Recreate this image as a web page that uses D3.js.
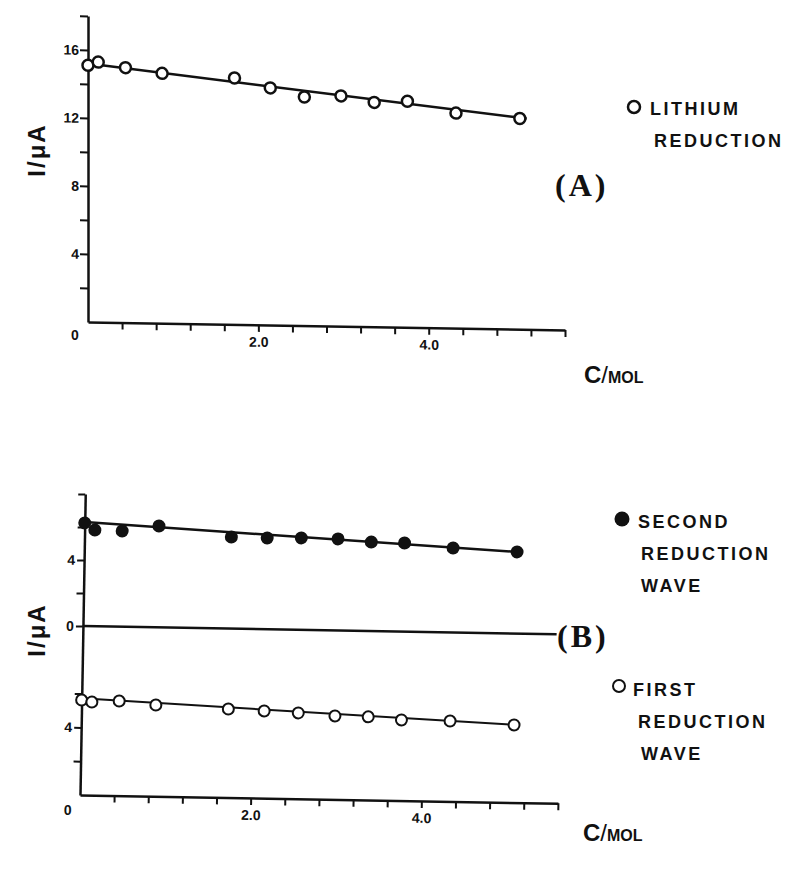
<!DOCTYPE html>
<html>
<head>
<meta charset="utf-8">
<script src="https://cdn.jsdelivr.net/npm/d3@7"></script>
<style>
  body { margin: 0; background: #fff; }
  svg { display: block; }
  text { font-family: "Liberation Sans", Arial, sans-serif; font-weight: bold; fill: #111; }
  .axis .domain { stroke: #111; stroke-width: 2.5; }
  .axis .tick line { stroke: #111; stroke-width: 2; }
  .axis .tick text { font-size: 14px; font-weight: bold; fill: #111; }
</style>
</head>
<body>
<script>
// concentration (mol), same for both runs
var conc = [0, 0.12, 0.44, 0.87, 1.72, 2.14, 2.54, 2.97, 3.36, 3.75, 4.32, 5.07];
// (A) lithium reduction current, uA
var lithium = [15.1, 15.3, 15.0, 14.7, 14.5, 13.95, 13.45, 13.55, 13.2, 13.3, 12.65, 12.4];
// (B) second and first reduction waves, uA
var secondWave = [6.25, 5.83, 5.8, 6.14, 5.55, 5.53, 5.57, 5.55, 5.39, 5.37, 5.12, 4.95];
var firstWave = [5.62, 5.51, 5.6, 5.4, 5.24, 5.16, 5.08, 4.94, 4.92, 4.77, 4.76, 4.59];
// fitted straight lines, [c, I] end points
var fitLithium = [[0, 15.2], [5.15, 12.4]];
var fitSecond = [[0, 6.3], [5.07, 4.95]];
var fitFirst = [[0, 5.72], [5.07, 4.6]];

var xTicks = [0.4, 0.8, 1.2, 1.6, 2.0, 2.4, 2.8, 3.2, 3.6, 4.0, 4.4, 4.8, 5.2, 5.6];
var xLabels = [2.0, 4.0];
var yTicksA = [2, 4, 6, 8, 10, 12, 14, 16, 18];
var yLabelsA = [4, 8, 12, 16];
var yTicksUp = [0, 2, 4, 6, 8];
var yLabelsUp = [0, 4];
var yTicksLow = [2, 4, 6];
var yLabelsLow = [4];

var svg = d3.select("body").append("svg")
  .attr("width", 795)
  .attr("height", 869);

function xFmt(d) {
  return xLabels.indexOf(d) >= 0 ? d.toFixed(1) : "";
}
function yFmt(list) {
  return function(d) { return list.indexOf(d) >= 0 ? d : ""; };
}

// ---------- panel A ----------
var xA = d3.scaleLinear().domain([0, 5.6]).range([88, 565]);
var yA = d3.scaleLinear().domain([0, 18]).range([322, 16]);

var gA = svg.append("g")
  .attr("transform", "translate(88,322) skewY(0.96) translate(-88,-322)");

gA.append("g").attr("class", "axis")
  .attr("transform", "translate(0," + yA(0) + ")")
  .call(d3.axisBottom(xA).tickValues(xTicks).tickSize(7).tickSizeOuter(0).tickPadding(5).tickFormat(xFmt));

gA.append("g").attr("class", "axis")
  .attr("transform", "translate(" + xA(0) + ",0)")
  .call(d3.axisLeft(yA).tickValues(yTicksA).tickSize(8).tickSizeOuter(0).tickPadding(1).tickFormat(yFmt(yLabelsA)));

gA.append("text")
  .attr("x", xA(0) - 17).attr("y", yA(0) + 18)
  .attr("font-size", 14)
  .text("0");

var lineA = d3.line()
  .x(function(d) { return xA(d[0]); })
  .y(function(d) { return yA(d[1]); });

gA.append("path")
  .datum(fitLithium)
  .attr("d", lineA)
  .attr("fill", "none")
  .attr("stroke", "#111")
  .attr("stroke-width", 2.5);

gA.selectAll("circle.li")
  .data(lithium)
  .enter()
  .append("circle")
  .attr("class", "li")
  .attr("cx", function(d, i) { return xA(conc[i]); })
  .attr("cy", function(d) { return yA(d); })
  .attr("r", 5.5)
  .attr("fill", "#fff")
  .attr("stroke", "#111")
  .attr("stroke-width", 2.5);

// ---------- panel B ----------
var xB = d3.scaleLinear().domain([0, 5.6]).range([80, 558]);
var yLow = d3.scaleLinear().domain([0, 10]).range([795, 626]);
var yUp = d3.scaleLinear().domain([0, 8]).range([626, 494]);

var gB = svg.append("g")
  .attr("transform", "rotate(1,80,795)");

gB.append("g").attr("class", "axis")
  .attr("transform", "translate(0," + yLow(0) + ")")
  .call(d3.axisBottom(xB).tickValues(xTicks).tickSize(7).tickSizeOuter(0).tickPadding(5).tickFormat(xFmt));

gB.append("g").attr("class", "axis")
  .attr("transform", "translate(" + xB(0) + ",0)")
  .call(d3.axisLeft(yLow).tickValues(yTicksLow).tickSize(7).tickSizeOuter(0).tickPadding(2).tickFormat(yFmt(yLabelsLow)));

gB.append("g").attr("class", "axis")
  .attr("transform", "translate(" + xB(0) + ",0)")
  .call(d3.axisLeft(yUp).tickValues(yTicksUp).tickSize(7).tickSizeOuter(0).tickPadding(2).tickFormat(yFmt(yLabelsUp)));

// zero line of the upper plot
gB.append("line")
  .attr("x1", xB(0)).attr("x2", xB(5.55))
  .attr("y1", yUp(0)).attr("y2", yUp(0))
  .attr("stroke", "#111")
  .attr("stroke-width", 2.5);

gB.append("text")
  .attr("x", xB(0) - 16).attr("y", yLow(0) + 20)
  .attr("font-size", 14)
  .text("0");

var lineUp = d3.line()
  .x(function(d) { return xB(d[0]); })
  .y(function(d) { return yUp(d[1]); });
var lineLow = d3.line()
  .x(function(d) { return xB(d[0]); })
  .y(function(d) { return yLow(d[1]); });

gB.append("path")
  .datum(fitSecond)
  .attr("d", lineUp)
  .attr("fill", "none")
  .attr("stroke", "#111")
  .attr("stroke-width", 2.5);

gB.append("path")
  .datum(fitFirst)
  .attr("d", lineLow)
  .attr("fill", "none")
  .attr("stroke", "#111")
  .attr("stroke-width", 2);

gB.selectAll("circle.second")
  .data(secondWave)
  .enter()
  .append("circle")
  .attr("class", "second")
  .attr("cx", function(d, i) { return xB(conc[i]); })
  .attr("cy", function(d) { return yUp(d); })
  .attr("r", 6.5)
  .attr("fill", "#111");

gB.selectAll("circle.first")
  .data(firstWave)
  .enter()
  .append("circle")
  .attr("class", "first")
  .attr("cx", function(d, i) { return xB(conc[i]); })
  .attr("cy", function(d) { return yLow(d); })
  .attr("r", 5.5)
  .attr("fill", "#fff")
  .attr("stroke", "#111")
  .attr("stroke-width", 2);

// ---------- labels ----------
function yTitle(cy) {
  svg.append("text")
    .attr("transform", "translate(45," + cy + ") rotate(-90)")
    .attr("text-anchor", "middle")
    .attr("font-size", 24)
    .attr("letter-spacing", 2)
    .text("I/\u03bcA");
}
yTitle(150);
yTitle(630);

function xTitle(x, y) {
  var t = svg.append("text").attr("x", x).attr("y", y);
  t.append("tspan").attr("font-size", 24).text("C");
  t.append("tspan").attr("font-size", 24).attr("font-weight", "normal").text("/");
  t.append("tspan").attr("font-size", 16).text("MOL");
}
xTitle(584, 383);
xTitle(583, 841);

function legendLines(x, y0, lines) {
  lines.forEach(function(s, i) {
    svg.append("text")
      .attr("x", x[i]).attr("y", y0 + i * 32)
      .attr("font-size", 18)
      .attr("letter-spacing", 2.5)
      .text(s);
  });
}

svg.append("circle").attr("cx", 634).attr("cy", 107).attr("r", 6)
  .attr("fill", "#fff").attr("stroke", "#111").attr("stroke-width", 2.5);
legendLines([650, 654], 115, ["LITHIUM", "REDUCTION"]);

svg.append("circle").attr("cx", 622).attr("cy", 519).attr("r", 7.5)
  .attr("fill", "#111");
legendLines([638, 641, 641], 528, ["SECOND", "REDUCTION", "WAVE"]);

svg.append("circle").attr("cx", 619).attr("cy", 686).attr("r", 6)
  .attr("fill", "#fff").attr("stroke", "#111").attr("stroke-width", 2);
legendLines([633, 638, 641], 696, ["FIRST", "REDUCTION", "WAVE"]);

svg.append("text")
  .attr("x", 555).attr("y", 196)
  .style("font-family", "'Liberation Serif', 'DejaVu Serif', serif")
  .attr("font-size", 32)
  .attr("letter-spacing", 3)
  .text("(A)");

svg.append("text")
  .attr("x", 557).attr("y", 647)
  .style("font-family", "'Liberation Serif', 'DejaVu Serif', serif")
  .attr("font-size", 32)
  .attr("letter-spacing", 3)
  .text("(B)");
</script>
</body>
</html>
